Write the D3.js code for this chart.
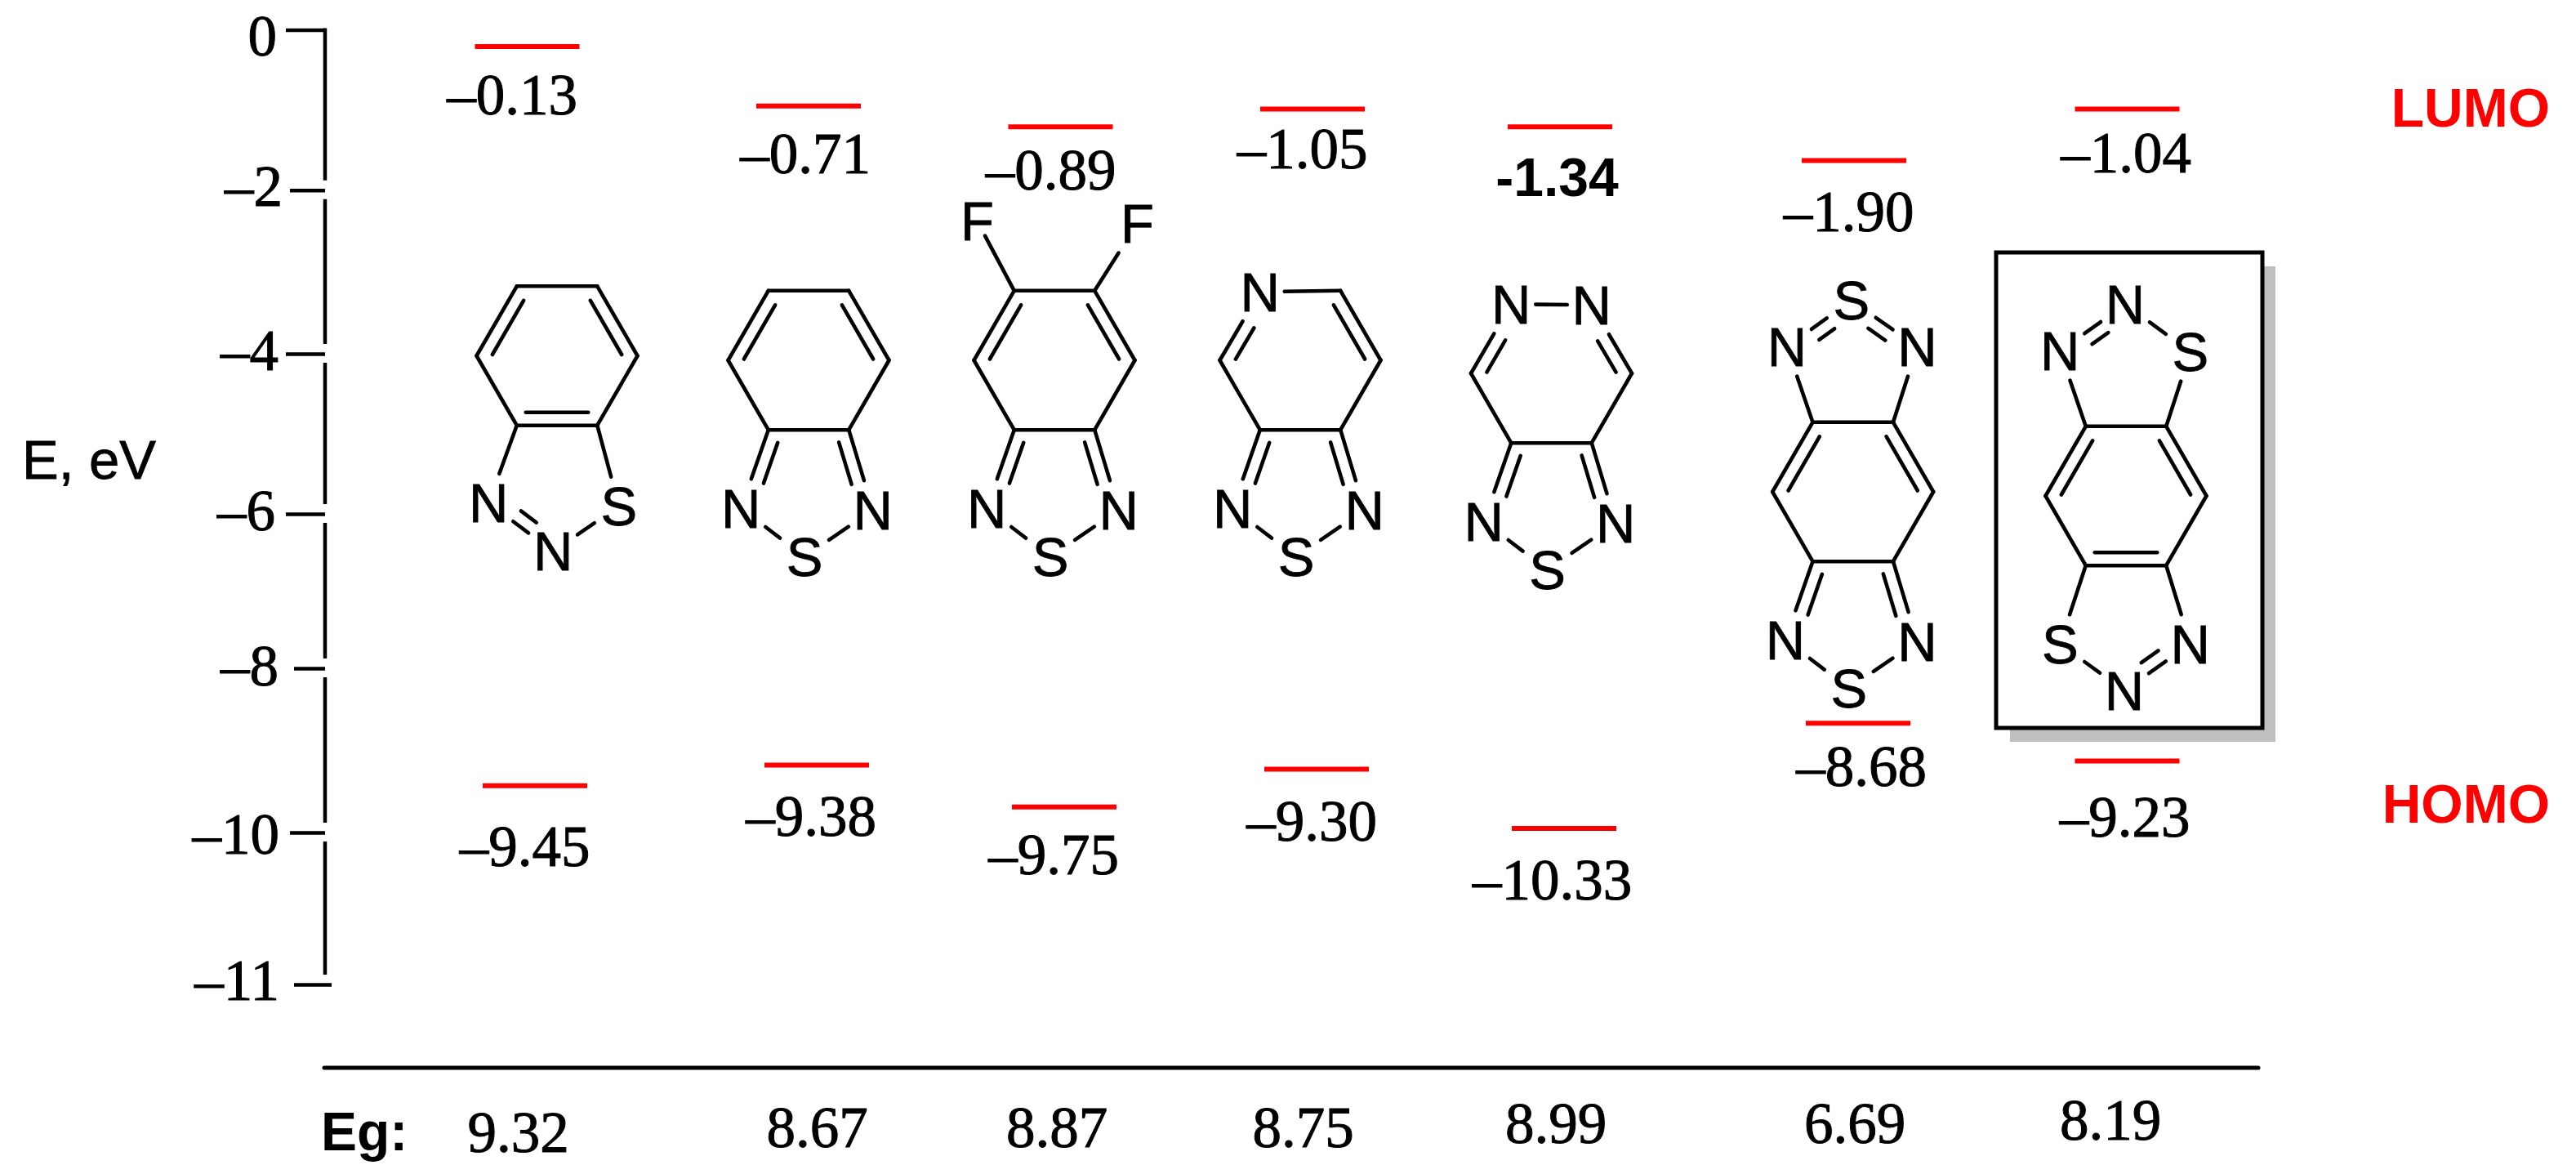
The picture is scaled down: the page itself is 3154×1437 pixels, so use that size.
<!DOCTYPE html>
<meta charset="utf-8">
<style>
  html, body { margin: 0; background: #fff; }
  svg { display: block; }
  .num { font-family: "Liberation Serif", serif; font-size: 71px; fill: #000; stroke: #000; stroke-width: 1px; text-anchor: middle; }
  .atom { font-family: "Liberation Sans", sans-serif; font-size: 67px; fill: #000; stroke: #000; stroke-width: 0.8px; text-anchor: middle; }
  .bold { font-family: "Liberation Sans", sans-serif; font-size: 66px; font-weight: bold; }
</style>
<script src="https://cdn.jsdelivr.net/npm/d3@7"></script>
<div id="dataviz"></div>
<script>
// compounds, left to right
var compounds = ["bt-iso", "bt", "f2-bt", "py", "pz", "bbt", "bbt-iso"];

// axis ticks
var energyTicks = [0, -2, -4, -6, -8, -10, -11];

// printed values
var lumoLabels = ["–0.13", "–0.71", "–0.89", "–1.05", "-1.34", "–1.90", "–1.04"];
var homoLabels = ["–9.45", "–9.38", "–9.75", "–9.30", "–10.33", "–8.68", "–9.23"];
var gapLabels = ["9.32", "8.67", "8.87", "8.75", "8.99", "6.69", "8.19"];

// level heights (the figure does not draw them at the printed value)
var lumoLevels = [-0.21, -0.95, -1.21, -0.99, -1.21, -1.63, -0.99];
var homoLevels = [-9.43, -9.18, -9.69, -9.23, -9.95, -8.67, -9.13];

// structures, in ring radii from the centre of the six-membered ring
var ring = {
  C: [0, 0], TL: [-0.5, -0.865], TR: [0.5, -0.865], R: [1, 0],
  BR: [0.5, 0.865], BL: [-0.5, 0.865], L: [-1, 0]
};
var lowerFused = { Na: [-0.84, 1.84, "N"], Nb: [0.8, 1.86, "N"], Sc: [-0.05, 2.44, "S"] };

var btIsoAtoms = Object.assign({}, ring, { Na: [-0.85, 1.83, "N"], Nb: [-0.05, 2.43, "N"], Sb: [0.77, 1.87, "S"] });
var btIsoBonds = [["TL", "TR"], ["TL", "L", "C"], ["TR", "R", "C"], ["R", "BR"], ["L", "BL"], ["BL", "BR", "C"],
  ["BL", "Na"], ["BR", "Sb"], ["Na", "Nb", "C"], ["Nb", "Sb"]];

var btAtoms = Object.assign({}, ring, lowerFused);
var lowerBonds = [["BL", "Na", "Sc"], ["BR", "Nb", "Sc"], ["Na", "Sc"], ["Nb", "Sc"]];
var btBonds = [["TL", "TR"], ["TL", "L", "C"], ["TR", "R", "C"], ["R", "BR"], ["L", "BL"], ["BL", "BR"]].concat(lowerBonds);

var f2Atoms = Object.assign({}, ring, lowerFused, { Fa: [-0.96, -1.73, "F", 0.5], Fb: [1.03, -1.7, "F"] });
var f2Bonds = btBonds.concat([["TL", "Fa"], ["TR", "Fb"]]);

var pyAtoms = Object.assign({}, btAtoms, { TL: [-0.5, -0.85, "N"] });
var pyBonds = btBonds;

var pzAtoms = Object.assign({}, btAtoms, { TL: [-0.5, -0.86, "N"], TR: [0.5, -0.85, "N"] });
var pzBonds = btBonds;

var bbtAtoms = Object.assign({}, ring, lowerFused, { Nc: [-0.82, -1.8, "N"], Nd: [0.8, -1.8, "N"], Sd: [-0.02, -2.38, "S"] });
var bbtBonds = btBonds.concat([["TL", "Nc"], ["TR", "Nd"], ["Nc", "Sd", "C"], ["Nd", "Sd", "C"]]);

var bbtIsoAtoms = Object.assign({}, ring, {
  Nc: [-0.82, -1.8, "N"], Nd: [-0.01, -2.38, "N"], Sd: [0.8, -1.79, "S"],
  Se: [-0.82, 1.84, "S"], Ne: [0.8, 1.84, "N"], Nf: [-0.02, 2.42, "N"]
});
var bbtIsoBonds = [["TL", "TR"], ["TL", "L", "C"], ["TR", "R", "C"], ["R", "BR"], ["L", "BL"], ["BL", "BR", "C"],
  ["TL", "Nc"], ["TR", "Sd"], ["Nc", "Nd", "C"], ["Nd", "Sd"],
  ["BL", "Se"], ["BR", "Ne"], ["Se", "Nf"], ["Ne", "Nf", "C"]];

var structureAtoms = [btIsoAtoms, btAtoms, f2Atoms, pyAtoms, pzAtoms, bbtAtoms, bbtIsoAtoms];
var structureBonds = [btIsoBonds, btBonds, f2Bonds, pyBonds, pzBonds, bbtBonds, bbtIsoBonds];

/**
 * canvas and scales
 */
var width = 3154, height = 1437;
var svg = d3.select("#dataviz").append("svg")
  .attr("width", width)
  .attr("height", height);

// the axis is hand drawn, its ticks are not evenly spaced
var y = d3.scaleLinear().domain(energyTicks).range([36.4, 232.7, 433, 629, 818, 1019, 1205]);
var axisX = 398;

var lumoX = d3.scaleOrdinal(compounds, [645.5, 990, 1298.5, 1607, 1910, 2270, 2604.5]);
var homoX = d3.scaleOrdinal(compounds, [655, 1000, 1303, 1612, 1915, 2275, 2604.5]);
var lumoTextX = d3.scaleOrdinal(compounds, [627, 986, 1286.5, 1594.5, 1906.5, 2263.5, 2603]);
var lumoTextY = d3.scaleOrdinal(compounds, [140, 212, 232, 206, 240, 283, 211]);
var homoTextX = d3.scaleOrdinal(compounds, [642.5, 993, 1290, 1606, 1900.5, 2279, 2601.5]);
var homoTextY = d3.scaleOrdinal(compounds, [1060, 1023, 1070, 1029, 1101, 962, 1024]);
var gapX = d3.scaleOrdinal(compounds, [634.5, 1000.5, 1294, 1595.5, 1905, 2271, 2584]);
var gapY = d3.scaleOrdinal(compounds, [1410, 1404, 1404, 1404, 1399, 1399, 1395]);
var ringX = d3.scaleOrdinal(compounds, [682, 990, 1291, 1592, 1899.5, 2268.7, 2603]);
var ringY = d3.scaleOrdinal(compounds, [435.5, 441, 441, 441, 457, 602, 607]);
var ringR = d3.scaleLinear().domain([0, 1]).range([0, 98.5]);

/**
 * highlight box behind the last compound
 */
var box = { x: 2444, y: 309, w: 326, h: 582 };
svg.append("rect")
  .attr("x", box.x + 17).attr("y", box.y + 17)
  .attr("width", box.w - 1).attr("height", box.h)
  .attr("fill", "#bfbfbf");
svg.append("rect")
  .attr("x", box.x).attr("y", box.y)
  .attr("width", box.w).attr("height", box.h)
  .attr("fill", "#fff").attr("stroke", "#000").attr("stroke-width", 5);

/**
 * energy axis
 */
var axis = svg.append("g")
  .attr("transform", "translate(" + axisX + ",0)")
  .call(d3.axisLeft(y).tickValues(energyTicks).tickSize(48).tickPadding(0)
    .tickFormat(d => d === 0 ? "0" : "–" + Math.abs(d)));

axis.select(".domain").remove();
axis.selectAll(".tick line")
  .attr("stroke", "#000")
  .attr("stroke-width", 4.5)
  .attr("x1", d => d === -11 ? 8 : 0)
  .attr("x2", d => (d === -2 || d === -10) ? -43 : (d === -8 || d === -11) ? -38 : -48);

var tickTextRight = d3.scaleOrdinal(energyTicks, [339, 346, 341, 337, 341, 342, 342]);
var tickBaseline = d3.scaleOrdinal(energyTicks, [67, 251, 452, 648, 838, 1044, 1223]);
axis.selectAll(".tick text")
  .attr("class", "num")
  .attr("dy", null)
  .style("text-anchor", "end")
  .attr("x", d => tickTextRight(d) - axisX)
  .attr("y", d => tickBaseline(d) - y(d))
  .attr("fill", "#000");

// axis line is broken around every tick
svg.append("g").selectAll("line")
  .data(d3.pairs(energyTicks))
  .enter().append("line")
  .attr("x1", axisX).attr("x2", axisX)
  .attr("y1", d => y(d[0]) + (d[0] === 0 ? -2 : 11))
  .attr("y2", d => y(d[1]) - 12)
  .attr("stroke", "#000")
  .attr("stroke-width", 4.5);

svg.append("text").attr("class", "atom")
  .attr("x", 27).attr("y", 586)
  .style("text-anchor", "start")
  .text("E, eV");

/**
 * orbital levels
 */
function levels(values, xScale) {
  svg.append("g").selectAll("line")
    .data(values)
    .enter().append("line")
    .attr("x1", (d, i) => xScale(compounds[i]) - 64)
    .attr("x2", (d, i) => xScale(compounds[i]) + 64)
    .attr("y1", d => y(d))
    .attr("y2", d => y(d))
    .attr("stroke", "#ff0000")
    .attr("stroke-width", 6);
}
levels(lumoLevels, lumoX);
levels(homoLevels, homoX);

function numbers(labels, xScale, yScale) {
  svg.append("g").selectAll("text")
    .data(labels)
    .enter().append("text")
    .attr("class", "num")
    .attr("x", (d, i) => xScale(compounds[i]))
    .attr("y", (d, i) => yScale(compounds[i]))
    .text(d => d);
}
numbers(lumoLabels, lumoTextX, lumoTextY);
numbers(homoLabels, homoTextX, homoTextY);
numbers(gapLabels, gapX, gapY);

// the one bold value is set in a sans face
svg.selectAll(".num").filter(d => d === "-1.34")
  .attr("class", "bold")
  .style("text-anchor", "middle");

svg.append("text").attr("class", "bold").attr("fill", "#ff0000")
  .attr("x", 3122).attr("y", 155).style("text-anchor", "end").text("LUMO");
svg.append("text").attr("class", "bold").attr("fill", "#ff0000")
  .attr("x", 3122).attr("y", 1007).style("text-anchor", "end").text("HOMO");

/**
 * footer
 */
svg.append("line")
  .attr("x1", 397).attr("x2", 2765)
  .attr("y1", 1307).attr("y2", 1307)
  .attr("stroke", "#000").attr("stroke-width", 5)
  .attr("stroke-linecap", "round");
svg.append("text").attr("class", "bold")
  .attr("x", 393).attr("y", 1408).text("Eg:");

/**
 * structures
 */
var gapBox = { x: 30, y: 36 }, doubleOffset = 16, doubleTrim = 11;

// how far a bond stays away from a labelled atom
function labelGap(atom, ux, uy) {
  if (!atom[2]) return 0;
  var g = Math.min(gapBox.x / Math.max(Math.abs(ux), 1e-6), gapBox.y / Math.max(Math.abs(uy), 1e-6));
  return g * (atom[3] || 1);
}

function drawStructure(name, atoms, bonds) {
  var g = svg.append("g").attr("class", "structure " + name);
  var px = id => ringX(name) + ringR(atoms[id][0]);
  var py = id => ringY(name) + ringR(atoms[id][1]);
  var segments = [];

  bonds.forEach(function(b) {
    var x1 = px(b[0]), y1 = py(b[0]), x2 = px(b[1]), y2 = py(b[1]);
    var len = Math.hypot(x2 - x1, y2 - y1), ux = (x2 - x1) / len, uy = (y2 - y1) / len;
    var g1 = labelGap(atoms[b[0]], ux, uy), g2 = labelGap(atoms[b[1]], ux, uy);
    segments.push([x1 + ux * g1, y1 + uy * g1, x2 - ux * g2, y2 - uy * g2]);
    if (b[2]) {
      // second line goes to the side of the reference atom
      var nx = -uy, ny = ux;
      if ((px(b[2]) - x1) * nx + (py(b[2]) - y1) * ny < 0) { nx = -nx; ny = -ny; }
      var t1 = g1 || doubleTrim, t2 = g2 || doubleTrim;
      segments.push([
        x1 + ux * t1 + nx * doubleOffset, y1 + uy * t1 + ny * doubleOffset,
        x2 - ux * t2 + nx * doubleOffset, y2 - uy * t2 + ny * doubleOffset
      ]);
    }
  });

  g.selectAll("line").data(segments).enter().append("line")
    .attr("x1", d => d[0]).attr("y1", d => d[1])
    .attr("x2", d => d[2]).attr("y2", d => d[3])
    .attr("stroke", "#000")
    .attr("stroke-width", 4.6)
    .attr("stroke-linecap", "round");

  g.selectAll("text")
    .data(Object.keys(atoms).filter(id => atoms[id][2]))
    .enter().append("text")
    .attr("class", "atom")
    .attr("x", px)
    .attr("y", id => py(id) + 23.5)
    .text(id => atoms[id][2]);
}

compounds.forEach((name, i) => drawStructure(name, structureAtoms[i], structureBonds[i]));
</script>
